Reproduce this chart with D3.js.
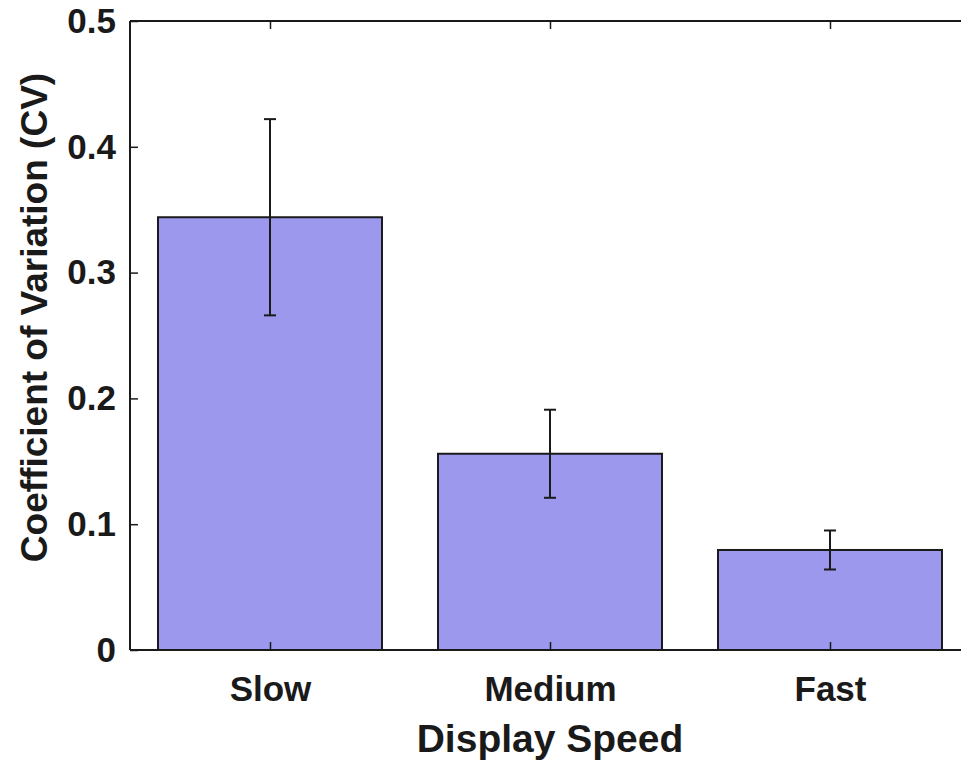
<!DOCTYPE html>
<html>
<head>
<meta charset="utf-8">
<script src="https://cdn.jsdelivr.net/npm/d3@7"></script>
<style>
  body { margin: 0; background: #fff; }
  text { font-family: "Liberation Sans", Arial, sans-serif; font-weight: bold; fill: #1a1a1a; }
</style>
</head>
<body>
<div class="canvas"></div>
<script>
const categories = ['Slow', 'Medium', 'Fast'];
const means = [0.344, 0.156, 0.0795];
const errors = [0.078, 0.035, 0.0155];
const yTicks = [0, 0.1, 0.2, 0.3, 0.4, 0.5];

const dim = { width: 961, height: 765 };
const plot = { left: 130, top: 21, bottom: 650 };

const svg = d3.select('.canvas')
    .append('svg')
    .attr('width', dim.width)
    .attr('height', dim.height);

// matlab style: bars at 1..n, xlim [0.5, n+0.5]
const x = d3.scaleLinear()
    .domain([0.5, 3.5])
    .range([plot.left, plot.left + 840]);

const y = d3.scaleLinear()
    .domain([0, 0.5])
    .range([plot.bottom, plot.top]);

const barW = (x(2) - x(1)) * 0.8;

// bars
svg.append('g').selectAll('rect')
    .data(means)
    .enter().append('rect')
    .attr('x', (d, i) => x(i + 1) - barW / 2)
    .attr('y', d => y(d))
    .attr('width', barW)
    .attr('height', d => y(0) - y(d))
    .attr('fill', '#9c98ee')
    .attr('stroke', '#1a1a1a')
    .attr('stroke-width', 2);

// axis box
const axLine = (x1, y1, x2, y2) => svg.append('line')
    .attr('x1', x1).attr('y1', y1).attr('x2', x2).attr('y2', y2)
    .attr('stroke', '#1a1a1a').attr('stroke-width', 2);
axLine(x(0.5), y(0), x(3.5), y(0));
axLine(x(0.5), y(0.5), x(3.5), y(0.5));
axLine(x(0.5), y(0), x(0.5), y(0.5));
axLine(x(3.5), y(0), x(3.5), y(0.5));

// y ticks (inward) + labels
const yAxis = d3.axisLeft(y).tickValues(yTicks).tickSize(-8).tickPadding(14)
    .tickFormat(d => d === 0 ? '0' : d3.format('.1f')(d));
svg.append('g')
    .attr('transform', `translate(${x(0.5)},0)`)
    .call(yAxis)
    .call(g => g.select('.domain').remove())
    .call(g => g.selectAll('line').attr('stroke', '#1a1a1a').attr('stroke-width', 1.5))
    .call(g => g.selectAll('text').attr('font-size', 35).attr('fill', '#1a1a1a'));

// x ticks bottom + top
const xAxis = d3.axisBottom(x).tickValues([1, 2, 3]).tickSize(-8).tickPadding(26)
    .tickFormat((d, i) => categories[i]);
svg.append('g')
    .attr('transform', `translate(0,${y(0)})`)
    .call(xAxis)
    .call(g => g.select('.domain').remove())
    .call(g => g.selectAll('line').attr('stroke', '#1a1a1a').attr('stroke-width', 1.5))
    .call(g => g.selectAll('text').attr('font-size', 35).attr('fill', '#1a1a1a'));
svg.append('g')
    .attr('transform', `translate(0,${y(0.5)})`)
    .call(d3.axisTop(x).tickValues([1, 2, 3]).tickSize(-8).tickFormat(''))
    .call(g => g.select('.domain').remove())
    .call(g => g.selectAll('line').attr('stroke', '#1a1a1a').attr('stroke-width', 1.5));

// error bars
const capW = 12;
const eb = svg.append('g').selectAll('g')
    .data(means)
    .enter().append('g')
    .attr('stroke', '#1a1a1a')
    .attr('stroke-width', 2);
eb.append('line')
    .attr('x1', (d, i) => x(i + 1)).attr('x2', (d, i) => x(i + 1))
    .attr('y1', (d, i) => y(d - errors[i])).attr('y2', (d, i) => y(d + errors[i]));
eb.append('line')
    .attr('x1', (d, i) => x(i + 1) - capW / 2).attr('x2', (d, i) => x(i + 1) + capW / 2)
    .attr('y1', (d, i) => y(d + errors[i])).attr('y2', (d, i) => y(d + errors[i]));
eb.append('line')
    .attr('x1', (d, i) => x(i + 1) - capW / 2).attr('x2', (d, i) => x(i + 1) + capW / 2)
    .attr('y1', (d, i) => y(d - errors[i])).attr('y2', (d, i) => y(d - errors[i]));

// axis labels
svg.append('text')
    .attr('x', x(2))
    .attr('y', 752)
    .attr('text-anchor', 'middle')
    .attr('font-size', 39)
    .text('Display Speed');

svg.append('text')
    .attr('transform', `translate(47,${(y(0) + y(0.5)) / 2 - 18}) rotate(-90)`)
    .attr('text-anchor', 'middle')
    .attr('font-size', 37)
    .text('Coefficient of Variation (CV)');
</script>
</body>
</html>
